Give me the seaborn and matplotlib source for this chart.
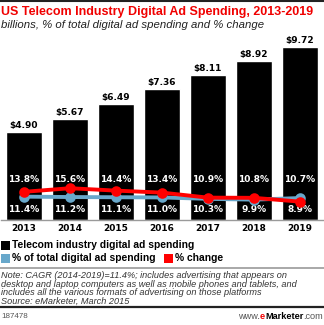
import matplotlib
matplotlib.use("Agg")
import matplotlib.pyplot as plt
from matplotlib.patches import Rectangle
from matplotlib.lines import Line2D
import matplotlib.transforms as mtransforms
import seaborn as sns
import pandas as pd

# ---- data -------------------------------------------------------------
years = ["2013", "2014", "2015", "2016", "2017", "2018", "2019"]
spending = [4.90, 5.67, 6.49, 7.36, 8.11, 8.92, 9.72]          # billions
share_of_digital = [11.4, 11.2, 11.1, 11.0, 10.3, 9.9, 10.7]   # % of total digital ad spending
pct_change = [13.8, 15.6, 14.4, 13.4, 10.9, 10.8, 8.9]         # % change

title = "US Telecom Industry Digital Ad Spending, 2013-2019"
subtitle = "billions, % of total digital ad spending and % change"
legend_labels = ["Telecom industry digital ad spending",
                 "% of total digital ad spending",
                 "% change"]
note_lines = [
    "Note: CAGR (2014-2019)=11.4%; includes advertising that appears on",
    "desktop and laptop computers as well as mobile phones and tablets, and",
    "includes all the various formats of advertising on those platforms",
    "Source: eMarketer, March 2015",
]
chart_id = "187478"

df = pd.DataFrame({"year": years, "spending": spending,
                   "share": share_of_digital, "change": pct_change})

# ---- style ------------------------------------------------------------
sns.set_theme(style="white")
BLACK = "#000000"
BLUE = "#68A8CB"
RED = "#FF0000"
TITLE_RED = "#F00000"
NUM_FONT = ["DejaVu Sans"]
TXT_FONT = ["Liberation Sans", "DejaVu Sans"]

W, H = 324, 325
fig = plt.figure(figsize=(W / 100, H / 100), dpi=100)
fig.patch.set_facecolor("white")


def fx(px):
    return px / W


def fy(py):
    return 1 - py / H


base_px, top_px = 219.5, 35.0
ax = fig.add_axes([fx(1), fy(base_px), (322) / W, (base_px - top_px) / H])

# bars
sns.barplot(data=df, x="year", y="spending", color=BLACK, width=0.78,
            saturation=1, ax=ax, zorder=2)
ax.set_ylim(0, 10.38)
ax.set_xlim(-0.5, len(years) - 0.5)
ax.bar_label(ax.containers[0], labels=[f"${v:.2f}" for v in spending],
             padding=1.5, fontsize=6.5, fontweight="bold", family=NUM_FONT,
             color=BLACK)

for s in ["top", "left", "right"]:
    ax.spines[s].set_visible(False)
ax.spines["bottom"].set_color("#9a9a9a")
ax.spines["bottom"].set_linewidth(1.0)
ax.set_yticks([])
ax.set_xlabel("")
ax.set_ylabel("")
ax.tick_params(axis="x", length=0, pad=3.5)
for lbl in ax.get_xticklabels():
    lbl.set_fontsize(6.5)
    lbl.set_fontweight("bold")
    lbl.set_family(NUM_FONT)
    lbl.set_color(BLACK)

# lines on a percentage axis sharing the baseline
ax2 = ax.twinx()
sns.pointplot(data=df, x="year", y="share", color=BLUE, ax=ax2,
              markers="o", markersize=5.5, linewidth=2.8)
sns.pointplot(data=df, x="year", y="change", color=RED, ax=ax2,
              markers="o", markersize=5.5, linewidth=2.8)
ax2.set_ylim(0, 92)
ax2.set_xlim(-0.5, len(years) - 0.5)
ax2.set_yticks([])
ax2.set_ylabel("")
ax2.set_xlabel("")
for s in ax2.spines.values():
    s.set_visible(False)

# percentage labels inside the bars: higher value above, lower below
blend = mtransforms.blended_transform_factory(ax.transData, fig.transFigure)
for i, (a, b) in enumerate(zip(share_of_digital, pct_change)):
    hi, lo = max(a, b), min(a, b)
    ax.text(i, fy(180), f"{hi:.1f}%", transform=blend, ha="center",
            va="center", color="white", fontsize=6.5, fontweight="bold",
            family=NUM_FONT, zorder=5)
    ax.text(i, fy(210), f"{lo:.1f}%", transform=blend, ha="center",
            va="center", color="white", fontsize=6.5, fontweight="bold",
            family=NUM_FONT, zorder=5)

# ---- header -----------------------------------------------------------
fig.add_artist(Line2D([0, 1], [fy(0.8), fy(0.8)], color="#222222", lw=1.5))
fig.text(fx(1), fy(11.5), title, ha="left", va="center", color=TITLE_RED,
         fontsize=9.0, fontweight="bold", family=TXT_FONT)
fig.text(fx(1), fy(24.5), subtitle, ha="left", va="center", color="#222222",
         fontsize=8.2, fontstyle="italic", family=TXT_FONT)

# ---- legend -----------------------------------------------------------
sw = 9
legend_items = [(legend_labels[0], BLACK, 1, 245),
                (legend_labels[1], BLUE, 1, 258),
                (legend_labels[2], RED, 164, 258)]
for text, col, x0, yc in legend_items:
    fig.add_artist(Rectangle((fx(x0), fy(yc + sw / 2)), sw / W, sw / H,
                             transform=fig.transFigure, color=col, lw=0))
    fig.text(fx(x0 + sw + 2), fy(yc), text, ha="left", va="center",
             color=BLACK, fontsize=7.4, fontweight="bold", family=TXT_FONT)

fig.add_artist(Line2D([0, 1], [fy(268), fy(268)], color="#9a9a9a", lw=1.2))

# ---- notes ------------------------------------------------------------
for k, line in enumerate(note_lines):
    fig.text(fx(1), fy(276 + 8.4 * k), line, ha="left", va="center",
             color="#333333", fontsize=6.6, fontstyle="italic",
             family=TXT_FONT)

fig.add_artist(Line2D([0, 1], [fy(306.5), fy(306.5)], color="#222222", lw=1.6))

# ---- footer -----------------------------------------------------------
fig.text(fx(1), fy(316.5), chart_id, ha="left", va="center", color="#555555",
         fontsize=5.8, family=TXT_FONT)

renderer = fig.canvas.get_renderer()
pieces = [("www.", "#555555", "normal"), ("e", TITLE_RED, "bold"),
          ("Marketer", BLACK, "bold"), (".com", "#555555", "normal")]
x_right = fx(323)
for txt, col, wt in reversed(pieces):
    t = fig.text(x_right, fy(316.5), txt, ha="right", va="center", color=col,
                 fontsize=6.6, fontweight=wt, family=TXT_FONT)
    bb = t.get_window_extent(renderer)
    x_right -= bb.width / (W)

fig.savefig("out.png", dpi=100, facecolor="white")
